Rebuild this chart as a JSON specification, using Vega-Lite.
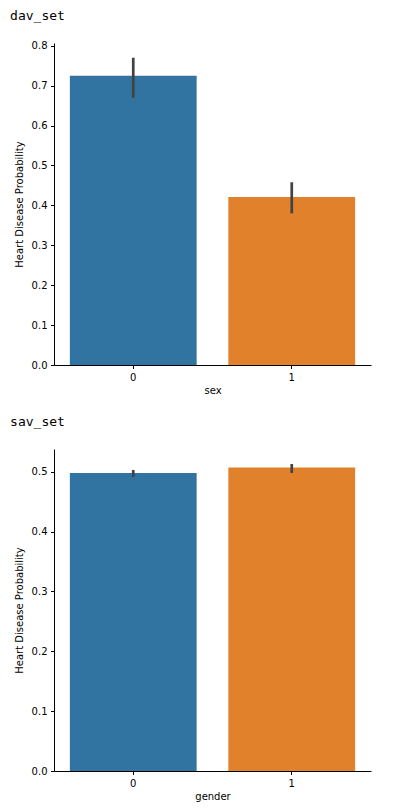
{
  "$schema": "https://vega.github.io/schema/vega-lite/v6.json",
  "background": "white",
  "padding": {"left": 10, "top": 9, "right": 5, "bottom": 5},
  "datasets": {
    "dav": [
      {"sex": "0", "prob": 0.725, "lo": 0.67, "hi": 0.77},
      {"sex": "1", "prob": 0.421, "lo": 0.38, "hi": 0.458}
    ],
    "sav": [
      {"gender": "0", "prob": 0.498, "lo": 0.491, "hi": 0.503},
      {"gender": "1", "prob": 0.507, "lo": 0.498, "hi": 0.513}
    ]
  },
  "config": {
    "view": {"stroke": null},
    "axis": {
      "domainColor": "#000", "tickColor": "#000", "labelColor": "#000", "titleColor": "#000",
      "labelFont": "DejaVu Sans", "titleFont": "DejaVu Sans",
      "labelFontSize": 10, "titleFontSize": 10, "titleFontWeight": "normal",
      "grid": false, "tickSize": 3.5, "labelPadding": 3.5, "domainWidth": 1, "tickWidth": 1,
      "titlePadding": 7
    },
    "axisX": {"titlePadding": 3},
    "title": {"font": "DejaVu Sans Mono", "fontSize": 13, "fontWeight": "normal", "anchor": "start", "color": "#000", "frame": "bounds", "offset": 18, "dx": -4},
    "concat": {"spacing": 21}
  },
  "vconcat": [
    {
      "title": "dav_set",
      "width": 317,
      "height": 322,
      "data": {"name": "dav"},
      "layer": [
        {
          "mark": {"type": "bar"},
          "encoding": {
            "x": {"field": "sex", "type": "nominal", "scale": {"paddingInner": 0.2, "paddingOuter": 0.1}, "axis": {"labelAngle": 0, "title": "sex"}},
            "y": {"field": "prob", "type": "quantitative", "scale": {"domain": [0, 0.807], "nice": false}, "axis": {"values": [0, 0.1, 0.2, 0.3, 0.4, 0.5, 0.6, 0.7, 0.8], "format": ".1f", "title": "Heart Disease Probability"}},
            "color": {"field": "sex", "type": "nominal", "scale": {"range": ["#3274a1", "#e1812c"]}, "legend": null}
          }
        },
        {
          "mark": {"type": "rule", "color": "#424242", "strokeWidth": 2.7},
          "encoding": {
            "x": {"field": "sex", "type": "nominal"},
            "y": {"field": "lo", "type": "quantitative"},
            "y2": {"field": "hi"}
          }
        }
      ]
    },
    {
      "title": {"text": "sav_set", "offset": 20},
      "width": 317,
      "height": 322,
      "data": {"name": "sav"},
      "layer": [
        {
          "mark": {"type": "bar"},
          "encoding": {
            "x": {"field": "gender", "type": "nominal", "scale": {"paddingInner": 0.2, "paddingOuter": 0.1}, "axis": {"labelAngle": 0, "title": "gender"}},
            "y": {"field": "prob", "type": "quantitative", "scale": {"domain": [0, 0.538], "nice": false}, "axis": {"values": [0, 0.1, 0.2, 0.3, 0.4, 0.5], "format": ".1f", "title": "Heart Disease Probability"}},
            "color": {"field": "gender", "type": "nominal", "scale": {"range": ["#3274a1", "#e1812c"]}, "legend": null}
          }
        },
        {
          "mark": {"type": "rule", "color": "#424242", "strokeWidth": 2.7},
          "encoding": {
            "x": {"field": "gender", "type": "nominal"},
            "y": {"field": "lo", "type": "quantitative"},
            "y2": {"field": "hi"}
          }
        }
      ]
    }
  ]
}
